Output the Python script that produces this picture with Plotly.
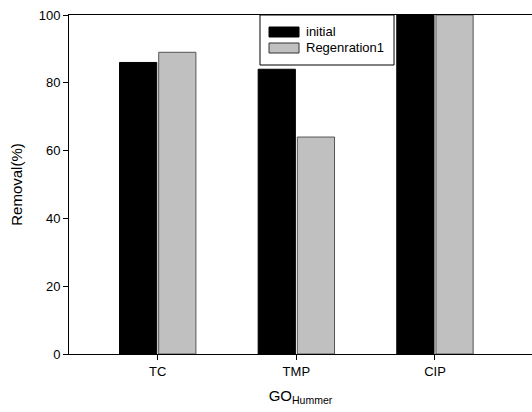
import plotly.graph_objects as go

# Removal efficiency of GO (Hummer) before and after regeneration
categories = ["TC", "TMP", "CIP"]
initial = [86, 84, 100]
regeneration1 = [89, 64, 100]
y_ticks = [0, 20, 40, 60, 80, 100]

FONT = "Liberation Sans, Arial, sans-serif"

fig = go.Figure()
fig.add_trace(go.Bar(
    x=categories, y=initial, name="initial",
    marker=dict(color="black", line=dict(color="black", width=1)),
))
fig.add_trace(go.Bar(
    x=categories, y=regeneration1, name="Regenration1",
    marker=dict(color="#c0c0c0", line=dict(color="#555555", width=1)),
))

# Boxed legend with wide swatches
shapes = [
    dict(type="rect", xref="paper", yref="paper", x0=0.4125, x1=0.702, y0=0.8525, y1=1.0,
         line=dict(color="black", width=1), fillcolor="white", layer="above"),
    dict(type="rect", xref="paper", yref="paper", x0=0.432, x1=0.4968, y0=0.9351, y1=0.9646,
         line=dict(color="black", width=1), fillcolor="black", layer="above"),
    dict(type="rect", xref="paper", yref="paper", x0=0.432, x1=0.4968, y0=0.8879, y1=0.9174,
         line=dict(color="#333333", width=1), fillcolor="#c0c0c0", layer="above"),
]
annotations = [
    dict(text="initial", xref="paper", yref="paper", x=0.508, y=0.9499,
         xanchor="left", yanchor="middle", showarrow=False,
         font=dict(family=FONT, size=13, color="black")),
    dict(text="Regenration1", xref="paper", yref="paper", x=0.508, y=0.9027,
         xanchor="left", yanchor="middle", showarrow=False,
         font=dict(family=FONT, size=13, color="black")),
]

fig.update_layout(
    width=532, height=412,
    margin=dict(l=69, r=0, t=15, b=58),
    paper_bgcolor="white", plot_bgcolor="white",
    barmode="group", bargap=0.435, bargroupgap=0.05,
    showlegend=False,
    font=dict(family=FONT, size=13, color="black"),
    shapes=shapes, annotations=annotations,
    xaxis=dict(
        range=[-0.64, 2.70],
        showline=True, linecolor="black", linewidth=1, mirror=True,
        ticks="outside", ticklen=5, tickcolor="black",
        showgrid=False, zeroline=False,
        tickfont=dict(family=FONT, size=13),
        title=dict(text="GO<sub>Hummer</sub>", font=dict(family=FONT, size=15), standoff=12),
    ),
    yaxis=dict(
        range=[0, 100],
        tickvals=y_ticks,
        showline=True, linecolor="black", linewidth=1, mirror=True,
        ticks="outside", ticklen=5, tickcolor="black",
        showgrid=False, zeroline=False,
        tickfont=dict(family=FONT, size=13),
        title=dict(text="Removal(%)", font=dict(family=FONT, size=15), standoff=12),
    ),
)

fig.write_html("out.html")
